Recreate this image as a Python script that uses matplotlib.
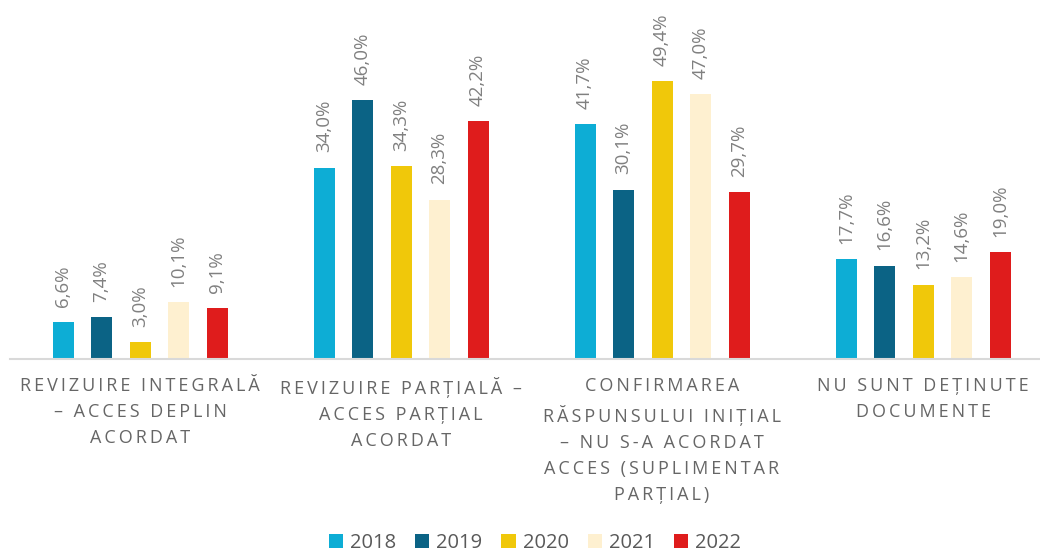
import matplotlib
matplotlib.use("Agg")
import matplotlib.pyplot as plt
import numpy as np

categories = [
    "REVIZUIRE INTEGRALĂ\n– ACCES DEPLIN\nACORDAT",
    "REVIZUIRE PARȚIALĂ –\nACCES PARȚIAL\nACORDAT",
    "CONFIRMAREA\nRĂSPUNSULUI INIȚIAL\n– NU S-A ACORDAT\nACCES (SUPLIMENTAR\nPARȚIAL)",
    "NU SUNT DEȚINUTE\nDOCUMENTE",
]
years = ["2018", "2019", "2020", "2021", "2022"]
v2018 = [6.6, 34.0, 41.7, 17.7]
v2019 = [7.4, 46.0, 30.1, 16.6]
v2020 = [3.0, 34.3, 49.4, 13.2]
v2021 = [10.1, 28.3, 47.0, 14.6]
v2022 = [9.1, 42.2, 29.7, 19.0]
series = [v2018, v2019, v2020, v2021, v2022]
colors = ["#0DADD5", "#0B6385", "#F0C80A", "#FEF0D0", "#DF1C1C"]

plt.rcParams['font.family'] = ['Open Sans', 'DejaVu Sans']

W, H = 1040, 551
fig = plt.figure(figsize=(W / 100, H / 100), dpi=100)
ax_left, ax_right = 10, 1040
ax_bottom_px = 359
ax = fig.add_axes([ax_left / W, (H - ax_bottom_px) / H, (ax_right - ax_left) / W, ax_bottom_px / H])

group_px = 261.0
x0 = -(140 - ax_left) / group_px
ax.set_xlim(x0, x0 + (ax_right - ax_left) / group_px)
ax.set_ylim(0, ax_bottom_px / 5.628)

step = 38.5 / group_px
width = 21 / group_px
x = np.arange(len(categories))
value_color = "#808080"
for i, (yr, vals, c) in enumerate(zip(years, series, colors)):
    pos = x + (i - 2) * step
    bars = ax.bar(pos, vals, width=width, color=c, label=yr, zorder=2)
    for xi, v in zip(pos, vals):
        ax.annotate(f"{v:.1f}%".replace(".", ","), (xi, v), xytext=(0, 11),
                    textcoords="offset points", rotation=90, ha="center", va="bottom",
                    fontsize=13.5, color=value_color)


def spaced(s):
    return "\n".join("\u2009".join(line) for line in s.split("\n"))


ax.set_xticks(x)
ax.set_xticklabels([spaced(c) for c in categories], fontsize=13, color="#666666",
                   linespacing=1.58)
ax.tick_params(axis="x", length=0, pad=13)
ax.set_yticks([])
for s in ["top", "right", "left"]:
    ax.spines[s].set_visible(False)
ax.spines["bottom"].set_color("#d9d9d9")
ax.spines["bottom"].set_linewidth(1.5)

leg = fig.legend(loc="center", bbox_to_anchor=(535 / W, 1 - 543 / H), ncol=5, frameon=False,
                 fontsize=14.5, handlelength=0.7, handleheight=0.7, handletextpad=0.35,
                 columnspacing=0.95, labelcolor="#595959")

fig.savefig("out.png", dpi=100)
